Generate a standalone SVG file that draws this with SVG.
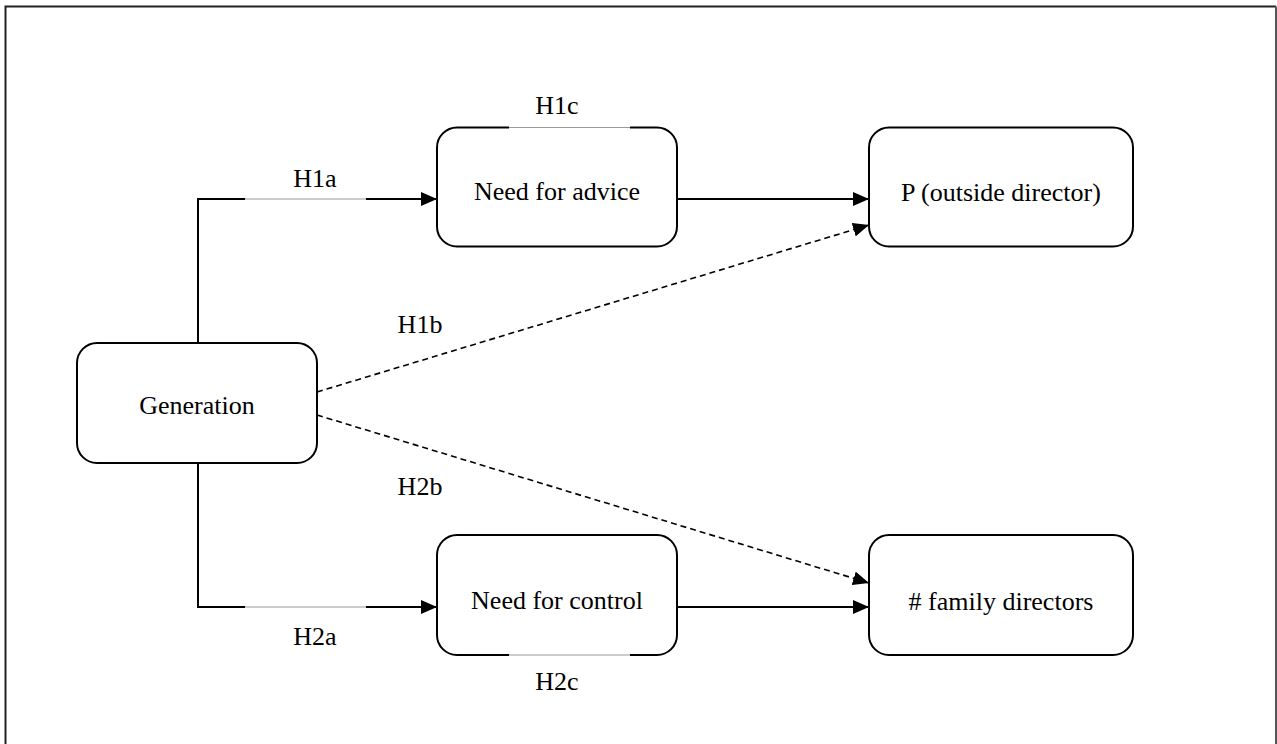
<svg xmlns="http://www.w3.org/2000/svg" width="1277" height="744" viewBox="0 0 1277 744">
<defs>
<marker id="arr" viewBox="0 0 16 14" refX="16" refY="7" markerWidth="16" markerHeight="14" markerUnits="userSpaceOnUse" orient="auto">
<path d="M0,0 L16,7 L0,14 Z" fill="#000"/>
</marker>
</defs>
<rect width="1277" height="744" fill="#fff"/>
<path d="M5.5,750 V6.5 H1276" fill="none" stroke="#222" stroke-width="2"/>
<path d="M1276,6.5 V750" fill="none" stroke="#555" stroke-width="2"/>

<g id="connectors">
<g fill="none" stroke="#000" stroke-width="2">
<path d="M198,343 V199 H245"/>
<path d="M366,199 H437" marker-end="url(#arr)"/>
<path d="M677,199 H869" marker-end="url(#arr)"/>
<path d="M198,463 V607 H245"/>
<path d="M366,607 H437" marker-end="url(#arr)"/>
<path d="M677,607 H869" marker-end="url(#arr)"/>
</g>
<g fill="none" stroke="#000" stroke-width="1.6" stroke-dasharray="6,4">
<path d="M317,392 L869,225" marker-end="url(#arr)"/>
<path d="M317,415 L869,583" marker-end="url(#arr)"/>
</g>
<g fill="none" stroke="#999" stroke-width="1.2">
<path d="M245,199 H366"/>
<path d="M245,607 H366"/>
</g>
<g font-family="Liberation Serif, serif" font-size="26" fill="#000" text-anchor="middle">
<text x="315" y="187" style="font-family:'Liberation Serif',serif !important">H1a</text>
<text x="557" y="114" style="font-family:'Liberation Serif',serif !important">H1c</text>
<text x="420" y="333" style="font-family:'Liberation Serif',serif !important">H1b</text>
<text x="420" y="495" style="font-family:'Liberation Serif',serif !important">H2b</text>
<text x="315" y="645" style="font-family:'Liberation Serif',serif !important">H2a</text>
<text x="557" y="690" style="font-family:'Liberation Serif',serif !important">H2c</text>
</g>
</g>

<g id="need-advice" font-family="Liberation Serif, serif" font-size="26" text-anchor="middle">
<rect x="437" y="127.5" width="240" height="119" rx="20" fill="#fff" stroke="#000" stroke-width="2"/>
<path d="M509,127.5 H630" fill="none" stroke="#fff" stroke-width="3"/>
<path d="M509,127.5 H630" fill="none" stroke="#999" stroke-width="1.2"/>
<text x="557" y="200" style="font-family:'Liberation Serif',serif !important">Need for advice</text>
</g>

<g id="p-outside" font-family="Liberation Serif, serif" font-size="26" text-anchor="middle">
<rect x="869" y="127.5" width="264" height="119" rx="20" fill="#fff" stroke="#000" stroke-width="2"/>
<text x="1001" y="201" style="font-family:'Liberation Serif',serif !important">P (outside director)</text>
</g>

<g id="generation" font-family="Liberation Serif, serif" font-size="26" text-anchor="middle">
<rect x="77" y="343" width="240" height="120" rx="20" fill="#fff" stroke="#000" stroke-width="2"/>
<text x="197" y="414" style="font-family:'Liberation Serif',serif !important">Generation</text>
</g>

<g id="need-control" font-family="Liberation Serif, serif" font-size="26" text-anchor="middle">
<rect x="437" y="535" width="240" height="120" rx="20" fill="#fff" stroke="#000" stroke-width="2"/>
<path d="M509,655 H630" fill="none" stroke="#fff" stroke-width="3"/>
<path d="M509,655 H630" fill="none" stroke="#999" stroke-width="1.2"/>
<text x="557" y="609" style="font-family:'Liberation Serif',serif !important">Need for control</text>
</g>

<g id="family-directors" font-family="Liberation Serif, serif" font-size="26" text-anchor="middle">
<rect x="869" y="535" width="264" height="120" rx="20" fill="#fff" stroke="#000" stroke-width="2"/>
<text x="1001" y="610" style="font-family:'Liberation Serif',serif !important"># family directors</text>
</g>
</svg>
